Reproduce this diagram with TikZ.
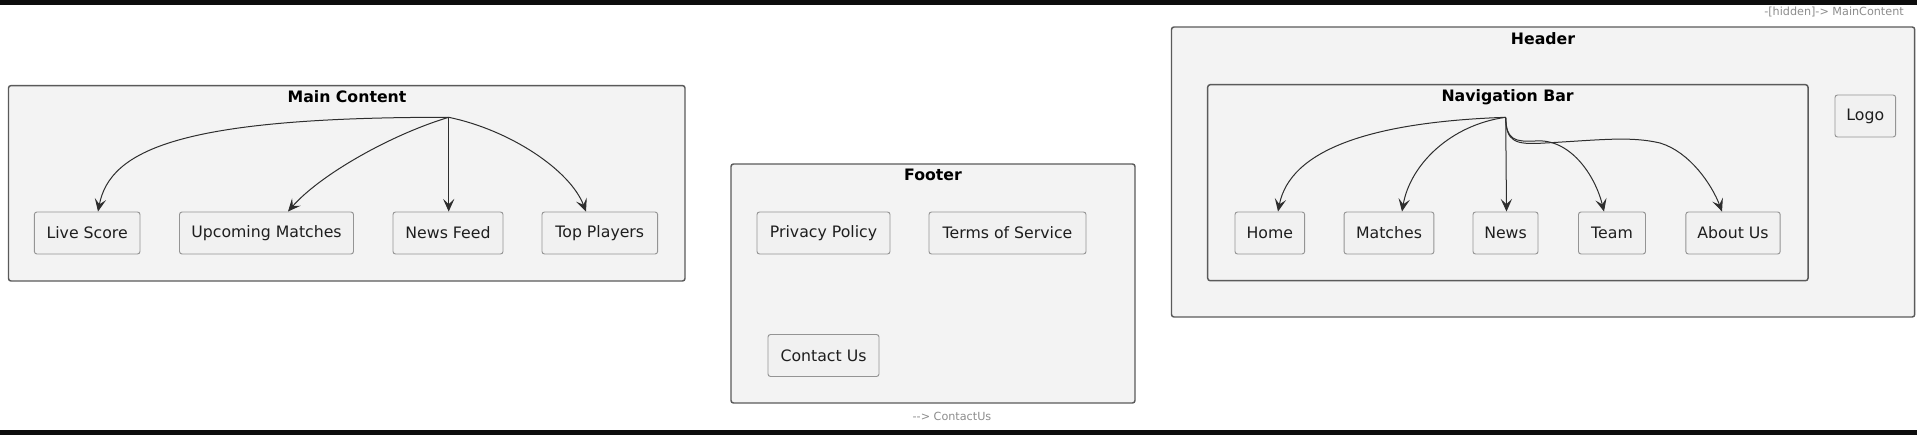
\documentclass[tikz,border=0pt]{standalone}
\usepackage{fontspec}
\setmainfont{DejaVu Sans}
\usetikzlibrary{arrows.meta,calc}
\definecolor{clfill}{HTML}{F3F3F3}
\definecolor{clline}{HTML}{5A5A5A}
\definecolor{bxfill}{HTML}{F1F1F1}
\definecolor{bxline}{HTML}{949494}
\definecolor{txt}{HTML}{1E1E1E}
\definecolor{arr}{HTML}{2E2E2E}
\definecolor{note}{HTML}{8C8C8C}
\newdimen\pxu \pxu=0.75pt
\begin{document}
\begin{tikzpicture}[x=0.75pt,y=-0.75pt,
  cluster/.style={draw=clline,fill=clfill,line width=1.1pt,rounded corners=2.5\pxu,inner sep=0pt},
  cltitle/.style={text=black,font=\fontsize{11.8}{14}\selectfont\bfseries,inner sep=0pt,anchor=center},
  box/.style={draw=bxline,fill=bxfill,line width=0.7pt,rounded corners=2.5\pxu,inner sep=0pt,
    minimum height=42\pxu,text=txt,font=\fontsize{11.8}{14}\selectfont},
  link/.style={draw=arr,line width=0.75pt,-{Stealth[length=9.5pt,width=8.5pt,inset=4pt]}},
  notelbl/.style={text=note,font=\fontsize{8.4}{10}\selectfont,inner sep=0pt}]
\useasboundingbox (0,0) rectangle (1917,435);
% black bars
\fill[black!95] (0,0) rectangle (1917,5);
\fill[black!95] (0,430) rectangle (1917,435);

% ---------- Main Content ----------
\node[cluster,minimum width=676.5\pxu,minimum height=195.4\pxu] (mc) at (346.75,183.3) {};
\node[cltitle] (mct) at (347,97) {Main Content};
\node[box,minimum width=105.6\pxu] (ls) at (87.2,233) {Live Score};
\node[box,minimum width=174\pxu] (um) at (266.5,233) {Upcoming Matches};
\node[box,minimum width=110\pxu] (nf) at (448,233) {News Feed};
\node[box,minimum width=115.6\pxu] (tp) at (599.8,233) {Top Players};
\coordinate (mcsrc) at (448.7,117.3);
\draw[link] (mcsrc) .. controls (180,117) and (110,150) .. ([shift={(10.8,0)}]ls.north);
\draw[link] (mcsrc) .. controls (390,135) and (320,175) .. ([shift={(21.5,0)}]um.north);
\draw[link] (mcsrc) -- ([shift={(0.7,0)}]nf.north);
\draw[link] (mcsrc) .. controls (510,130) and (570,170) .. ([shift={(-13.8,0)}]tp.north);

% ---------- Footer ----------
\node[cluster,minimum width=404\pxu,minimum height=239\pxu] (ft) at (933,283.5) {};
\node[cltitle] (ftt) at (933,175) {Footer};
\node[box,minimum width=133\pxu] (pp) at (823.5,233) {Privacy Policy};
\node[box,minimum width=157\pxu] (ts) at (1007.5,233) {Terms of Service};
\node[box,minimum width=111\pxu] (cu) at (823.5,355.5) {Contact Us};
\node[notelbl] (cun) at (952,416) {{-}{-}> ContactUs};

% ---------- Header ----------
\node[cluster,minimum width=743.2\pxu,minimum height=290\pxu] (hd) at (1543.1,172) {};
\node[cltitle] (hdt) at (1543,39) {Header};
\node[cluster,minimum width=600.3\pxu,minimum height=196\pxu] (nb) at (1507.85,182.7) {};
\node[cltitle] (nbt) at (1507.6,97) {Navigation Bar};
\node[box,minimum width=60.6\pxu] (lg) at (1865.3,116) {Logo};
\node[box,minimum width=69.6\pxu] (hm) at (1269.8,233) {Home};
\node[box,minimum width=89.8\pxu] (mt) at (1389,233) {Matches};
\node[box,minimum width=65\pxu] (nw) at (1505.5,233) {News};
\node[box,minimum width=67\pxu] (tm) at (1612,233) {Team};
\node[box,minimum width=94.3\pxu] (au) at (1733,233) {About Us};
\coordinate (nbsrc) at (1505.7,117.3);
\draw[link] (nbsrc) .. controls (1370,122) and (1290,150) .. ([shift={(8.2,0)}]hm.north);
\draw[link] (nbsrc) .. controls (1450,125) and (1410,165) .. ([shift={(13,0)}]mt.north);
\draw[link] (nbsrc) -- ([shift={(1,0)}]nw.north);
\draw[link] (nbsrc) .. controls (1506,140) and (1515,142) .. (1535,141)
  .. controls (1570,138) and (1595,175) .. ([shift={(-8,0)}]tm.north);
\draw[link] (nbsrc) .. controls (1506,142) and (1515,145) .. (1545,143)
  .. controls (1600,140) and (1630,136) .. (1660,143)
  .. controls (1690,152) and (1712,185) .. ([shift={(-11,0)}]au.north);
\node[notelbl,anchor=east] (hdn) at (1904,12.3) {-[hidden]-> MainContent};
\end{tikzpicture}
\end{document}
